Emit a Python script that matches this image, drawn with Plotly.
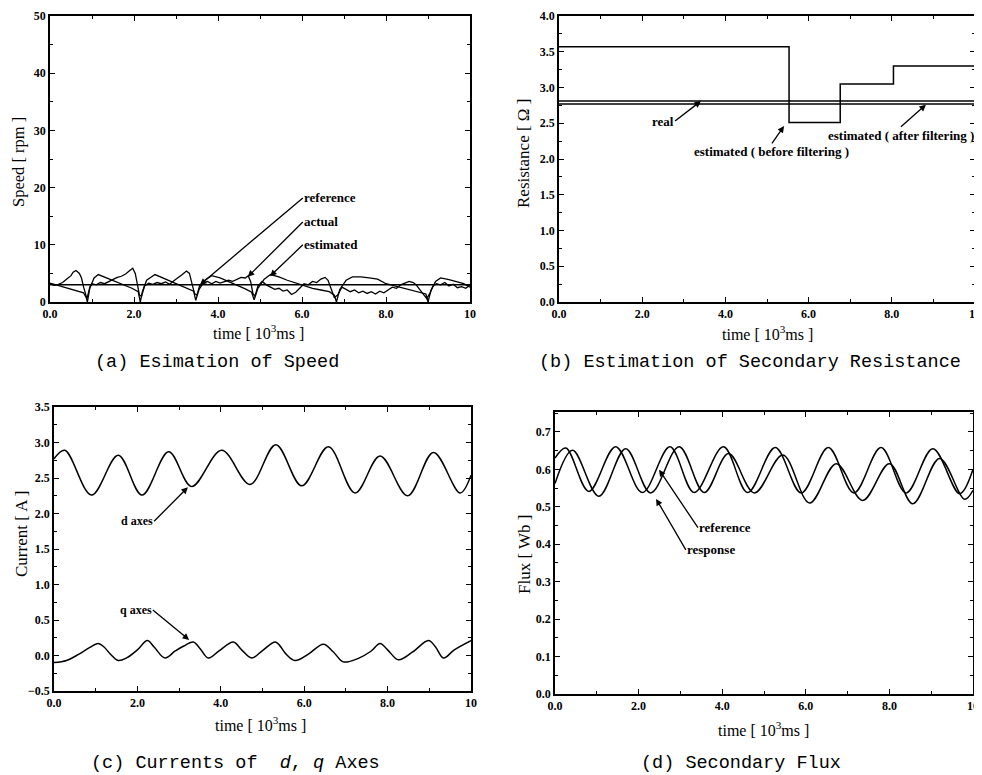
import plotly.graph_objects as go

W, H = 982, 775
OFF = 8  # page body margin of the html page

# ---------------- (a) speed ----------------
speed_ref_t = [0, 10]
speed_ref_v = [3.0, 3.0]

speed_est_t = [0, 0.2, 0.4, 0.6, 0.8, 0.86, 0.89, 0.95, 1.05, 1.15, 1.35, 1.55, 1.75, 1.95, 2.1, 2.15,
               2.2, 2.3, 2.5, 2.7, 2.9, 3.1, 3.3, 3.42, 3.47, 3.55, 3.7, 3.85, 4.05, 4.25, 4.45, 4.65,
               4.8, 4.86, 4.95, 5.1, 5.25, 5.45, 5.65, 5.85, 6.05, 6.25, 6.45, 6.65, 6.77, 6.82, 6.9,
               7.05, 7.2, 7.4, 7.6, 7.8, 8.0, 8.2, 8.4, 8.6, 8.8, 8.95, 9.0, 9.07, 9.18, 9.3, 9.5,
               9.7, 9.85, 10]
speed_est_v = [3.3, 2.9, 2.5, 2.1, 1.6, 0.8, 0.0, 2.5, 4.2, 4.8, 4.2, 3.6, 3.0, 2.4, 1.8, 0.0,
               1.8, 3.8, 4.8, 4.2, 3.5, 3.0, 2.4, 1.9, 0.3, 2.2, 3.9, 4.6, 4.2, 3.6, 3.0, 2.3,
               1.7, 0.4, 2.4, 4.0, 4.8, 4.4, 3.8, 3.3, 2.8, 2.4, 2.1, 1.8, 1.2, 0.0, 2.2,
               3.8, 4.4, 4.4, 4.2, 4.0, 3.2, 2.8, 2.4, 2.1, 1.7, 1.4, 0.0, 2.0, 3.6, 4.2, 3.9,
               3.5, 3.2, 2.6]

speed_act_t = [0, 0.1, 0.2, 0.3, 0.4, 0.5, 0.55, 0.62, 0.7, 0.75, 0.8, 0.85, 0.88, 0.95, 1.0, 1.1,
               1.2, 1.3, 1.4, 1.5, 1.6, 1.7, 1.8, 1.9, 1.97, 2.03, 2.08, 2.13, 2.18, 2.25, 2.35,
               2.45, 2.55, 2.65, 2.75, 2.85, 2.95, 3.05, 3.15, 3.25, 3.32, 3.38, 3.44, 3.5, 3.56,
               3.65, 3.75, 3.85, 3.95, 4.05, 4.15, 4.25, 4.35, 4.45, 4.55, 4.65, 4.72, 4.78, 4.83,
               4.88, 4.95, 5.05, 5.15, 5.25, 5.35, 5.45, 5.55, 5.65, 5.75, 5.85, 5.95, 6.05, 6.15,
               6.25, 6.35, 6.45, 6.55, 6.62, 6.7, 6.77, 6.85, 6.95, 7.05, 7.15, 7.25, 7.35, 7.45,
               7.55, 7.65, 7.75, 7.85, 7.95, 8.05, 8.15, 8.25, 8.35, 8.45, 8.55, 8.65, 8.72, 8.8,
               8.9, 8.97, 9.05, 9.12, 9.2, 9.3, 9.4, 9.5, 9.6, 9.7, 9.8, 9.9, 10]
speed_act_v = [3.2, 2.9, 3.1, 3.4, 4.0, 4.6, 5.2, 5.5, 5.0, 4.2, 2.6, 1.2, 0.6, 2.6, 3.2, 3.0,
               3.4, 3.2, 3.6, 3.9, 4.3, 4.5, 4.9, 5.5, 5.9, 5.0, 3.0, 1.2, 1.0, 2.8, 3.3,
               3.1, 3.4, 3.2, 3.5, 3.1, 3.7, 4.2, 4.8, 5.4, 5.0, 3.2, 1.5, 1.2, 2.8,
               3.3, 3.6, 3.2, 3.6, 3.3, 3.6, 3.8, 3.6, 4.0, 4.3, 4.2, 4.6, 3.5, 1.5,
               1.0, 2.8, 3.6, 3.0, 2.6, 2.2, 2.4, 1.9, 2.1, 1.3, 1.7, 2.5, 3.2, 3.0,
               3.6, 3.4, 4.0, 4.3, 3.8, 2.2, 0.8, 1.2, 2.6, 2.2, 1.8, 2.1, 1.6, 1.9,
               1.5, 1.8, 1.4, 1.9, 1.6, 2.1, 2.6, 2.4, 3.0, 3.3, 3.6, 3.4, 3.0, 2.2,
               1.2, 0.6, 1.6, 2.8, 3.2, 3.0, 3.4, 2.8, 3.1, 2.5, 2.7, 2.4, 3.0]

# ---------------- (b) resistance ----------------
res_real_t = [0, 10]
res_real_v = [2.81, 2.81]
res_after_t = [0, 10]
res_after_v = [2.77, 2.77]
res_before_t = [0, 5.53, 6.76, 8.04, 10]
res_before_v = [3.57, 2.51, 3.05, 3.30, 3.30]

# ---------------- (c) currents ----------------
id_t = [0, 0.26, 0.9, 1.54, 2.11, 2.75, 3.3, 4.02, 4.7, 5.32, 5.94, 6.58, 7.22, 7.82, 8.48, 9.1, 9.74, 10]
id_v = [2.77, 2.89, 2.26, 2.82, 2.26, 2.87, 2.38, 2.89, 2.41, 2.97, 2.39, 2.94, 2.29, 2.81, 2.25, 2.86, 2.29, 2.54]

iq_t = [0, 0.3, 0.6, 0.85, 1.06, 1.2, 1.35, 1.54, 1.75, 2.0, 2.24, 2.4, 2.66, 2.9, 3.1, 3.34, 3.5,
        3.7, 3.95, 4.3, 4.5, 4.74, 5.0, 5.3, 5.4, 5.55, 5.78, 6.1, 6.46, 6.7, 6.94, 7.3, 7.6, 7.82,
        8.0, 8.26, 8.6, 8.98, 9.15, 9.34, 9.6, 10]
iq_v = [-0.10, -0.07, 0.02, 0.11, 0.17, 0.12, 0.02, -0.07, -0.03, 0.08, 0.21, 0.12, -0.035, 0.06,
        0.13, 0.19, 0.10, -0.035, 0.06, 0.19, 0.08, -0.035, 0.07, 0.19, 0.15, 0.03, -0.07, 0.02,
        0.16, 0.05, -0.09, -0.04, 0.06, 0.17, 0.08, -0.06, 0.05, 0.21, 0.12, -0.035, 0.08, 0.21]

# ---------------- (d) flux ----------------
flux_ref_t = [0, 0.26, 0.81, 1.45, 2.09, 2.75, 3.33, 4.03, 4.61, 5.27, 5.89, 6.54, 7.15, 7.8, 8.4, 9.04, 9.68, 10]
flux_ref_v = [0.63, 0.657, 0.541, 0.66, 0.538, 0.66, 0.538, 0.66, 0.538, 0.658, 0.537, 0.658, 0.537, 0.658, 0.537, 0.655, 0.535, 0.60]
flux_resp_t = [0, 0.42, 1.05, 1.69, 2.29, 2.97, 3.57, 4.15, 4.77, 5.45, 6.09, 6.73, 7.36, 8.0, 8.56, 9.2, 9.8, 10]
flux_resp_v = [0.562, 0.651, 0.528, 0.655, 0.537, 0.66, 0.538, 0.642, 0.537, 0.638, 0.51, 0.615, 0.517, 0.615, 0.508, 0.629, 0.52, 0.544]

x_tickvals = [0, 2, 4, 6, 8, 10]
x_ticktext = ["0.0", "2.0", "4.0", "6.0", "8.0", "10"]

SERIF = "Liberation Serif"
MONO = "Liberation Mono"
LW = 1.5

fig = go.Figure()

def add(t, v, xa, ya, shape="linear", width=LW):
    fig.add_trace(go.Scatter(x=t, y=v, mode="lines", xaxis=xa, yaxis=ya,
                             line=dict(color="black", width=width, shape=shape),
                             showlegend=False, hoverinfo="skip"))

add(speed_ref_t, speed_ref_v, "x", "y")
add(speed_est_t, speed_est_v, "x", "y", width=1.3)
add(speed_act_t, speed_act_v, "x", "y", width=1.3)

add(res_real_t, res_real_v, "x2", "y2")
add(res_after_t, res_after_v, "x2", "y2")
add(res_before_t, res_before_v, "x2", "y2", shape="hv")

add(id_t, id_v, "x3", "y3", shape="spline")
add(iq_t, iq_v, "x3", "y3", shape="spline")

add(flux_ref_t, flux_ref_v, "x4", "y4", shape="spline")
add(flux_resp_t, flux_resp_v, "x4", "y4", shape="spline")

# page pixel -> paper fraction (figure is drawn OFF px right/down of the page corner)
def px2fx(px):
    return (px - OFF) / W

def py2fy(py):
    return 1 - (py - OFF) / H

boxes = {
    1: (50, 470, 16, 302),
    2: (559, 975, 16, 302),
    3: (54, 471, 407, 691),
    4: (555, 973, 412, 694),
}
yranges = {1: [0, 50], 2: [0, 4.0], 3: [-0.5, 3.5], 4: [0, 0.753]}
ydtick = {1: 10, 2: 0.5, 3: 0.5, 4: 0.1}
yfmt = {1: "d", 2: ".1f", 3: ".1f", 4: ".1f"}

tickfont = dict(family=SERIF, size=12, color="black", weight="bold")
layout = dict(template="none", width=W, height=H, margin=dict(l=0, r=0, t=0, b=0, autoexpand=False),
              paper_bgcolor="white", plot_bgcolor="white", showlegend=False)
common = dict(showline=True, linecolor="black", linewidth=1.5, mirror="ticks",
              ticks="inside", ticklen=5, tickwidth=1.2, tickcolor="black", automargin=False,
              showgrid=False, zeroline=False, tickfont=tickfont)
for i, (x0, x1, y0, y1) in boxes.items():
    s = "" if i == 1 else str(i)
    layout["xaxis" + s] = dict(domain=[px2fx(x0), px2fx(x1)], range=[0, 10], anchor="y" + s,
                               tickvals=x_tickvals, ticktext=x_ticktext,
                               minor=dict(dtick=1, ticks="inside", ticklen=3, tickcolor="black"),
                               **common)
    layout["yaxis" + s] = dict(domain=[py2fy(y1), py2fy(y0)], range=yranges[i], anchor="x" + s,
                               dtick=ydtick[i], tick0=yranges[i][0] if i != 3 else 0,
                               tickformat=yfmt[i],
                               minor=dict(dtick=ydtick[i] / 2, ticks="inside", ticklen=3, tickcolor="black"),
                               **common)
fig.update_layout(**layout)

ann = []
def paper_text(text, x, y, size, family=SERIF, angle=0, weight="normal"):
    ann.append(dict(text=text, x=px2fx(x), y=py2fy(y), xref="paper", yref="paper",
                    showarrow=False, textangle=angle, xanchor="center", yanchor="middle",
                    font=dict(family=family, size=size, color="black", weight=weight)))

# axis titles
paper_text("Speed [ rpm ]", 18, 162, 16.5, angle=-90)
paper_text("Resistance [ Ω ]", 524, 154, 17, angle=-90)
paper_text("Current [ A ]", 21, 534, 17, angle=-90)
paper_text("Flux [ Wb ]", 524, 554, 17, angle=-90)
tt = "time [ 10<sup>3</sup>ms ]"
paper_text(tt, 258, 332, 16)
paper_text(tt, 767, 333, 16)
paper_text(tt, 260, 724, 16)
paper_text(tt, 763, 729, 16)

# captions
paper_text("(a) Esimation of Speed", 217, 363, 18.5, family=MONO)
paper_text("(b) Estimation of Secondary Resistance", 750, 363, 18.5, family=MONO)
paper_text("(c) Currents of  <i>d</i>, <i>q</i> Axes", 235, 763, 18.5, family=MONO)
paper_text("(d) Secondary Flux", 741, 763, 18.5, family=MONO)

def pointer(text, xa, ya, tx, ty, hx, hy, xanchor, yanchor, size=13):
    # label text anchored at the arrow tail; arrow points at (hx, hy)
    ann.append(dict(text=text, x=hx, y=hy, ax=tx, ay=ty, xref=xa, yref=ya, axref=xa, ayref=ya,
                    xanchor=xanchor, yanchor=yanchor, borderpad=0,
                    showarrow=True, arrowhead=2, arrowsize=1, arrowwidth=1.3, arrowcolor="black",
                    font=dict(family=SERIF, size=size, color="black", weight="bold")))

pointer("reference", "x", "y", 6.02, 18.2, 3.57, 3.0, "left", "middle")
pointer("actual", "x", "y", 6.02, 14.0, 4.71, 4.4, "left", "middle")
pointer("estimated", "x", "y", 6.02, 10.0, 5.24, 4.5, "left", "middle")

pointer("real", "x2", "y2", 2.79, 2.53, 3.41, 2.81, "right", "middle")
pointer("estimated ( before filtering )", "x2", "y2", 5.12, 2.22, 5.41, 2.46, "center", "top")
pointer("estimated ( after filtering )", "x2", "y2", 8.22, 2.45, 8.82, 2.76, "center", "top")

pointer("d axes", "x3", "y3", 2.40, 1.89, 3.21, 2.37, "right", "middle", size=12)
pointer("q axes", "x3", "y3", 2.37, 0.64, 3.24, 0.22, "right", "middle", size=12)

pointer("reference", "x4", "y4", 3.42, 0.444, 2.49, 0.599, "left", "middle")
pointer("response", "x4", "y4", 3.13, 0.385, 2.42, 0.521, "left", "middle")

fig.update_layout(annotations=ann)
fig.write_html("out.html")
